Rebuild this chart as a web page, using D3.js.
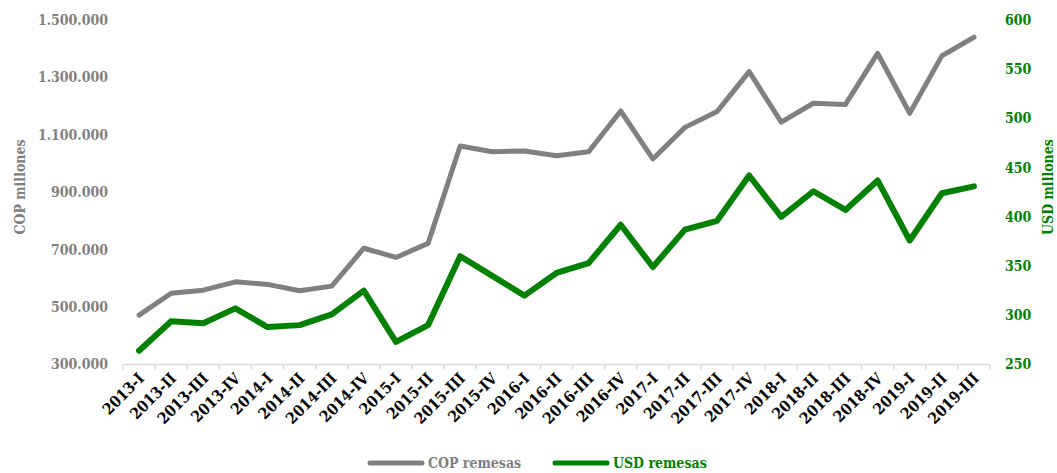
<!DOCTYPE html>
<html>
<head>
<meta charset="utf-8">
<script src="https://cdn.jsdelivr.net/npm/d3@7"></script>
<style>
  body { margin: 0; background: #fff; }
  text { font-family: "DejaVu Serif", serif; font-stretch: condensed; font-weight: bold; }
</style>
</head>
<body>
<div id="chart"></div>
<script>
// quarters
var quarters = ["2013-I","2013-II","2013-III","2013-IV","2014-I","2014-II","2014-III","2014-IV",
  "2015-I","2015-II","2015-III","2015-IV","2016-I","2016-II","2016-III","2016-IV",
  "2017-I","2017-II","2017-III","2017-IV","2018-I","2018-II","2018-III","2018-IV",
  "2019-I","2019-II","2019-III"];

// COP remesas (millones)
var copValues = [472000, 548000, 559000, 588000, 579000, 557000, 573000, 705000,
  673000, 722000, 1061000, 1041000, 1044000, 1027000, 1041000, 1183000,
  1016000, 1126000, 1181000, 1320000, 1144000, 1210000, 1206000, 1384000,
  1175000, 1375000, 1440000];

// USD remesas (millones)
var usdValues = [264, 294, 292, 307, 288, 290, 301, 325,
  273, 290, 360, 340, 320, 343, 353, 392,
  349, 387, 396, 442, 400, 426, 407, 437,
  376, 424, 431];

var leftTicks = [300000, 500000, 700000, 900000, 1100000, 1300000, 1500000];
var rightTicks = [250, 300, 350, 400, 450, 500, 550, 600];

var W = 1057, H = 473;
var margin = {top: 20, right: 67, bottom: 108.5, left: 123};
var width = W - margin.left - margin.right,
    height = H - margin.top - margin.bottom;

var grey = "#808080", green = "#008000";

var svg = d3.select("#chart").append("svg")
  .attr("width", W)
  .attr("height", H);

var g = svg.append("g")
  .attr("transform", "translate(" + margin.left + "," + margin.top + ")");

var x = d3.scaleBand().domain(quarters).range([0, width]);
var yLeft = d3.scaleLinear().domain([300000, 1500000]).range([height, 0]);
var yRight = d3.scaleLinear().domain([250, 600]).range([height, 0]);

var fmt = function(d) { return d3.format(",")(d).replace(/,/g, "."); };

// left axis labels
g.selectAll(".ly")
  .data(leftTicks)
  .enter().append("text")
  .attr("class", "ly")
  .attr("x", -15)
  .attr("y", function(d) { return yLeft(d); })
  .attr("dy", "0.35em")
  .attr("text-anchor", "end")
  .attr("font-size", "14px")
  .attr("fill", grey)
  .text(fmt);

// right axis labels
g.selectAll(".ry")
  .data(rightTicks)
  .enter().append("text")
  .attr("class", "ry")
  .attr("x", width + 15)
  .attr("y", function(d) { return yRight(d); })
  .attr("dy", "0.35em")
  .attr("text-anchor", "start")
  .attr("font-size", "14px")
  .attr("fill", green)
  .text(function(d) { return d; });

// axis titles
svg.append("text")
  .attr("transform", "translate(25,187) rotate(-90)")
  .attr("text-anchor", "middle")
  .attr("font-size", "14px")
  .attr("fill", grey)
  .text("COP millones");

svg.append("text")
  .attr("transform", "translate(1053,187) rotate(-90)")
  .attr("text-anchor", "middle")
  .attr("font-size", "14px")
  .attr("fill", green)
  .text("USD millones");

// x axis
var xAxis = g.append("g")
  .attr("transform", "translate(0," + height + ")");

xAxis.append("line")
  .attr("x1", 0).attr("x2", width)
  .attr("stroke", "#d9d9d9").attr("stroke-width", 1.5);

var tickPos = quarters.map(function(q) { return x(q); }).concat([width]);
xAxis.selectAll(".tick")
  .data(tickPos)
  .enter().append("line")
  .attr("x1", function(d) { return d; })
  .attr("x2", function(d) { return d; })
  .attr("y1", 0).attr("y2", 5)
  .attr("stroke", "#d9d9d9").attr("stroke-width", 1.5);

xAxis.selectAll(".xl")
  .data(quarters)
  .enter().append("text")
  .attr("class", "xl")
  .attr("text-anchor", "end")
  .attr("font-size", "15.5px")
  .attr("fill", "#000")
  .attr("transform", function(d) {
    return "translate(" + (x(d) + x.bandwidth() / 2 + 6) + ",15) rotate(-45)";
  })
  .text(function(d) { return d; });

// lines
var lineCop = d3.line()
  .x(function(d, i) { return x(quarters[i]) + x.bandwidth() / 2; })
  .y(function(d) { return yLeft(d); });

var lineUsd = d3.line()
  .x(function(d, i) { return x(quarters[i]) + x.bandwidth() / 2; })
  .y(function(d) { return yRight(d); });

g.append("path")
  .datum(copValues)
  .attr("d", lineCop)
  .attr("fill", "none")
  .attr("stroke", grey)
  .attr("stroke-width", 5)
  .attr("stroke-linejoin", "round")
  .attr("stroke-linecap", "round");

g.append("path")
  .datum(usdValues)
  .attr("d", lineUsd)
  .attr("fill", "none")
  .attr("stroke", green)
  .attr("stroke-width", 6)
  .attr("stroke-linejoin", "round")
  .attr("stroke-linecap", "round");

// legend
var legend = [
  {name: "COP remesas", color: grey, x0: 370},
  {name: "USD remesas", color: green, x0: 555}
];
var lg = svg.selectAll(".legend")
  .data(legend)
  .enter().append("g")
  .attr("class", "legend")
  .attr("transform", function(d) { return "translate(" + d.x0 + ",463)"; });

lg.append("line")
  .attr("x1", 0).attr("x2", 52)
  .attr("stroke", function(d) { return d.color; })
  .attr("stroke-width", 5)
  .attr("stroke-linecap", "round");

lg.append("text")
  .attr("x", 58)
  .attr("dy", "0.35em")
  .attr("font-size", "14px")
  .attr("fill", function(d) { return d.color; })
  .text(function(d) { return d.name; });
</script>
</body>
</html>
